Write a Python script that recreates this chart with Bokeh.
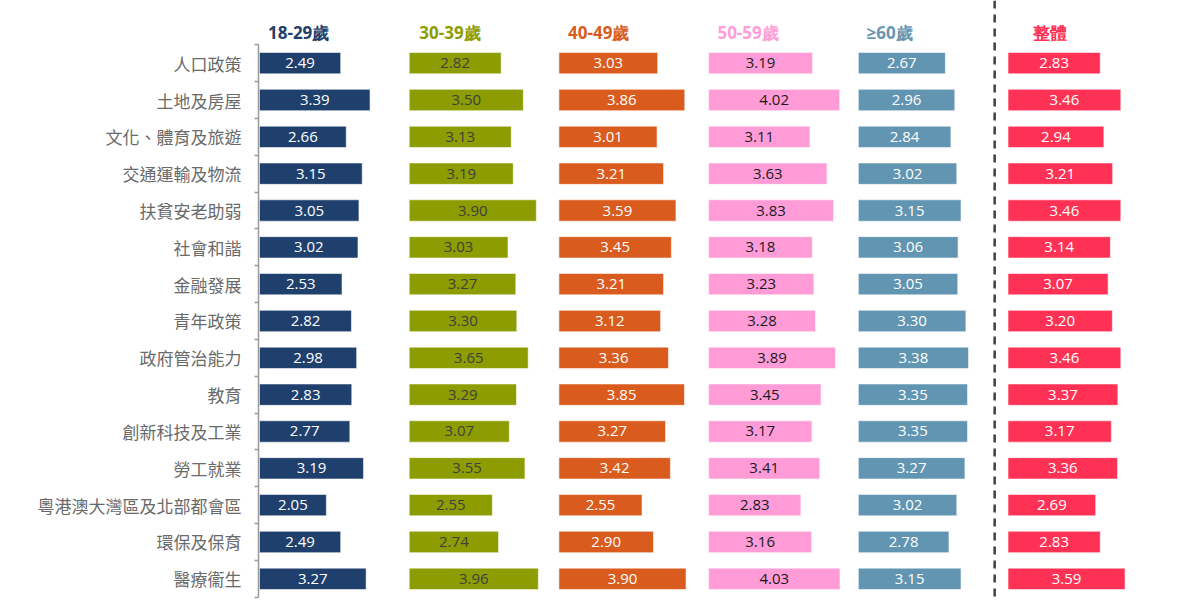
from bokeh.plotting import figure
from bokeh.models import Range1d, FixedTicker, ColumnDataSource, Span
from bokeh.core.properties import value
from bokeh.embed import file_html
from bokeh.resources import INLINE

categories = ["人口政策", "土地及房屋", "文化、體育及旅遊", "交通運輸及物流", "扶貧安老助弱",
              "社會和諧", "金融發展", "青年政策", "政府管治能力", "教育",
              "創新科技及工業", "勞工就業", "粵港澳大灣區及北部都會區", "環保及保育", "醫療衞生"]

groups = ["18-29歲", "30-39歲", "40-49歲", "50-59歲", "≥60歲", "整體"]

age_18_29 = [2.49, 3.39, 2.66, 3.15, 3.05, 3.02, 2.53, 2.82, 2.98, 2.83, 2.77, 3.19, 2.05, 2.49, 3.27]
age_30_39 = [2.82, 3.50, 3.13, 3.19, 3.90, 3.03, 3.27, 3.30, 3.65, 3.29, 3.07, 3.55, 2.55, 2.74, 3.96]
age_40_49 = [3.03, 3.86, 3.01, 3.21, 3.59, 3.45, 3.21, 3.12, 3.36, 3.85, 3.27, 3.42, 2.55, 2.90, 3.90]
age_50_59 = [3.19, 4.02, 3.11, 3.63, 3.83, 3.18, 3.23, 3.28, 3.89, 3.45, 3.17, 3.41, 2.83, 3.16, 4.03]
age_60_up = [2.67, 2.96, 2.84, 3.02, 3.15, 3.06, 3.05, 3.30, 3.38, 3.35, 3.35, 3.27, 3.02, 2.78, 3.15]
overall = [2.83, 3.46, 2.94, 3.21, 3.46, 3.14, 3.07, 3.20, 3.46, 3.37, 3.17, 3.36, 2.69, 2.83, 3.59]

series = [age_18_29, age_30_39, age_40_49, age_50_59, age_60_up, overall]

bar_colors = ["#1F3F6D", "#8D9C00", "#D95B1E", "#FF9CD8", "#6295B1", "#FF3256"]
head_colors = ["#1F3F6D", "#8D9C00", "#D95B1E", "#FF9ED8", "#6896B0", "#FF3256"]
label_colors = ["#FFFFFF", "#404040", "#FFFFFF", "#1A1A1A", "#FFFFFF", "#FFFFFF"]

GROUP_STEP = 4.592       # panel offset (data units)
HEAD_DX = [0.26, 0.31, 0.28, 0.27, 0.25, 0.78]

n = len(categories)
rows = [n - 1 - i for i in range(n)]

p = figure(width=1176, height=600, output_backend="svg", toolbar_location=None,
           x_range=Range1d(-0.031, 28.128), y_range=Range1d(-0.589, 15.702),
           x_axis_type=None, min_border_left=258, min_border_right=0,
           min_border_top=0, min_border_bottom=0)
p.outline_line_color = None
p.ygrid.visible = False
p.background_fill_color = "white"

for k, vals in enumerate(series):
    off = k * GROUP_STEP
    src = ColumnDataSource(dict(
        y=rows,
        left=[off] * n,
        right=[off + v for v in vals],
        mid=[off + v / 2 for v in vals],
        lab=["%.2f" % v for v in vals],
    ))
    p.hbar(y="y", left="left", right="right", height=0.58, source=src,
           fill_color=bar_colors[k], line_color="white", line_alpha=0.55, line_width=1)
    p.text(x="mid", y="y", text="lab", source=src, text_align="center",
           text_baseline="middle", text_font=value("Open Sans"),
           text_font_size="15px", text_color=label_colors[k])
    p.text(x=[off + HEAD_DX[k]], y=[14.83], text=[groups[k]], text_align="left",
           text_baseline="middle", text_font=value("Open Sans"), text_font_style="bold",
           text_font_size="17px", text_color=head_colors[k])

sep = Span(location=5 * GROUP_STEP - 0.41, dimension="height", line_color="#404040",
           line_width=2.5, line_dash="8 6")
p.add_layout(sep)

ax = p.yaxis[0]
ax.ticker = FixedTicker(ticks=rows, minor_ticks=[i - 0.5 for i in range(n + 1)])
ax.major_label_overrides = {r: c for r, c in zip(rows, categories)}
ax.bounds = (-0.5, n - 0.5)
ax.major_tick_out = 0
ax.major_tick_in = 0
ax.minor_tick_out = 4
ax.minor_tick_in = 0
ax.minor_tick_line_color = "#9A9A9A"
ax.minor_tick_line_width = 1.5
ax.axis_line_color = "#9A9A9A"
ax.axis_line_width = 1.5
ax.major_label_standoff = 13
ax.major_label_text_font = "Noto Sans CJK TC"
ax.major_label_text_font_size = "17px"
ax.major_label_text_color = "#6A6A6A"

open("out.html", "w").write(file_html(p, INLINE))
